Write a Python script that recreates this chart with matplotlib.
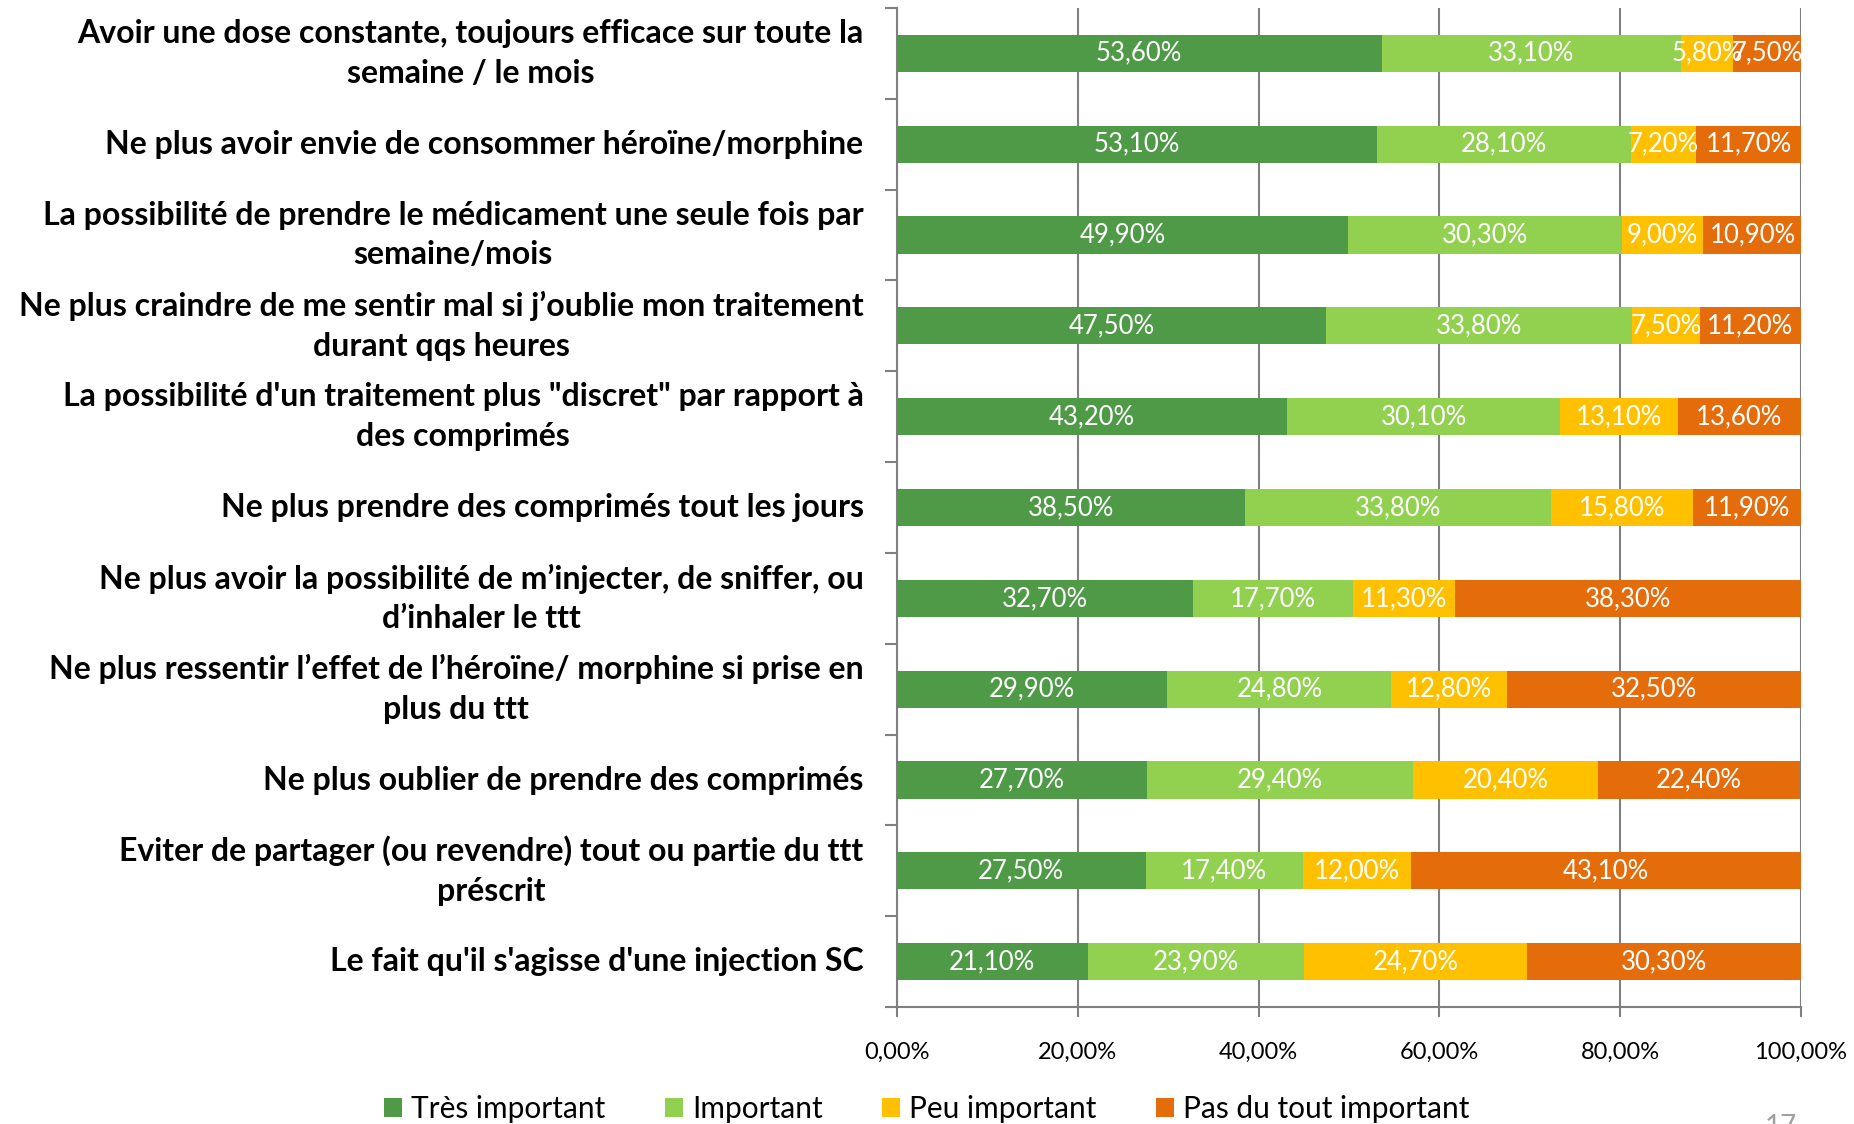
import matplotlib
matplotlib.use("Agg")
import matplotlib.pyplot as plt
import numpy as np

# data, in percent
categories = [
    "Avoir une dose constante, toujours efficace sur toute la\nsemaine / le mois",
    "Ne plus avoir envie de consommer héroïne/morphine",
    "La possibilité de prendre le médicament une seule fois par\nsemaine/mois",
    "Ne plus craindre de me sentir mal si j’oublie mon traitement\ndurant qqs heures",
    "La possibilité d'un traitement plus \"discret\" par rapport à\ndes comprimés",
    "Ne plus prendre des comprimés tout les jours",
    "Ne plus avoir la possibilité de m’injecter, de sniffer, ou\nd’inhaler le ttt",
    "Ne plus ressentir l’effet de l’héroïne/ morphine si prise en\nplus du ttt",
    "Ne plus oublier de prendre des comprimés",
    "Eviter de partager (ou revendre) tout ou partie du ttt\npréscrit",
    "Le fait qu'il s'agisse d'une injection SC",
]
tres_important = [53.6, 53.1, 49.9, 47.5, 43.2, 38.5, 32.7, 29.9, 27.7, 27.5, 21.1]
important = [33.1, 28.1, 30.3, 33.8, 30.1, 33.8, 17.7, 24.8, 29.4, 17.4, 23.9]
peu_important = [5.8, 7.2, 9.0, 7.5, 13.1, 15.8, 11.3, 12.8, 20.4, 12.0, 24.7]
pas_important = [7.5, 11.7, 10.9, 11.2, 13.6, 11.9, 38.3, 32.5, 22.4, 43.1, 30.3]
series_names = ["Très important", "Important", "Peu important", "Pas du tout important"]
xticks = [0, 20, 40, 60, 80, 100]

colors = ["#4E9A47", "#92D050", "#FFC000", "#E46C0A"]
font = ["Lato", "DejaVu Sans"]

fig = plt.figure(figsize=(18.54, 11.24), dpi=100)
ax = fig.add_axes([0.4838, 0.104, 0.4876, 0.889])

y = np.arange(len(categories))
series = [tres_important, important, peu_important, pas_important]
left = np.zeros(len(categories))
for vals, col, name in zip(series, colors, series_names):
    vals = np.array(vals)
    ax.barh(y, vals, left=left, height=0.41, color=col, label=name, zorder=3)
    for yi, l, v in zip(y, left, vals):
        ax.text(l + v / 2, yi, f"{v:.2f}%".replace(".", ","), color="white",
                ha="center", va="center", fontsize=18.5, family=font, zorder=4)
    left += vals

ax.set_xlim(0, 100)
ax.set_ylim(len(categories) - 0.5, -0.5)
ax.set_xticks(xticks)
ax.set_xticklabels([f"{t:.2f}%".replace(".", ",") for t in xticks], family=font, fontsize=17)
ax.xaxis.grid(True, color="#808080", linewidth=1.5, zorder=0)
ax.tick_params(axis="x", length=7, width=1.5, color="#808080", pad=18)

# category ticks sit at the boundaries
ax.set_yticks(np.arange(len(categories) + 1) - 0.5)
ax.set_yticklabels([])
ax.tick_params(axis="y", length=9, width=1.5, color="#808080")
for yi, cat in zip(y, categories):
    ax.text(-0.037, yi, cat, transform=ax.get_yaxis_transform(), ha="right", va="center",
            multialignment="center", fontsize=23, fontweight="bold", family=font,
            linespacing=1.45)

for s in ["top", "right"]:
    ax.spines[s].set_visible(False)
for s in ["left", "bottom"]:
    ax.spines[s].set_color("#808080")
    ax.spines[s].set_linewidth(1.5)

handles, labels = ax.get_legend_handles_labels()
fig.legend(handles, labels, loc="center", bbox_to_anchor=(0.5, 0.013), ncol=4, frameon=False,
           prop={"family": font, "size": 21.5}, handlelength=0.6, handleheight=0.6,
           handletextpad=0.3, columnspacing=2.0)

fig.text(0.9605, -0.003, "17", color="#A0A0A0", fontsize=20, family=font, ha="center", va="center")

fig.savefig("out.png", dpi=100)
